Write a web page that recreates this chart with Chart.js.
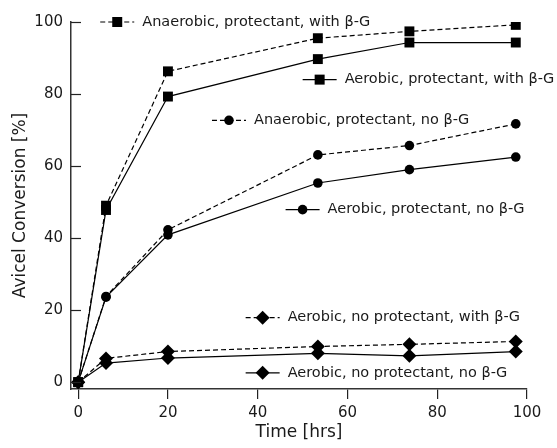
<!DOCTYPE html>
<html>
<head>
<meta charset="utf-8">
<script src="https://cdn.jsdelivr.net/npm/chart.js@4"></script>
<style>
  body { margin: 0; background: #fff; }
  #grafico { display: block; }
</style>
</head>
<body>
<canvas id="grafico" width="557" height="448"></canvas>
<script>
// time points [hrs]
const tempos = [0, 6.2, 20, 53.4, 73.8, 97.5];

// Avicel conversion [%]
const anaerobicoProtCom = [0, 49.0, 86.3, 95.5, 97.4, 99.2];
const aerobicoProtCom = [0, 47.8, 79.3, 89.7, 94.3, 94.3];
const anaerobicoProtSem = [0, 23.8, 42.3, 63.1, 65.7, 71.7];
const aerobicoProtSem = [0, 23.6, 40.9, 55.3, 59.0, 62.5];
const aerobicoSemProtCom = [0, 6.6, 8.5, 9.9, 10.5, 11.3];
const aerobicoSemProtSem = [0, 5.3, 6.7, 8.0, 7.3, 8.5];

const rotulos = [
  'Anaerobic, protectant, with \u03B2-G',
  'Aerobic, protectant, with \u03B2-G',
  'Anaerobic, protectant, no \u03B2-G',
  'Aerobic, protectant, no \u03B2-G',
  'Aerobic, no protectant, with \u03B2-G',
  'Aerobic, no protectant, no \u03B2-G'
];

const ticksX = [0, 20, 40, 60, 80, 100];
const ticksY = [0, 20, 40, 60, 80, 100];

const fonte = 'DejaVu Sans';
const corTexto = '#1a1a1a';

function pares(ys) {
  return tempos.map((t, i) => ({ x: t, y: ys[i] }));
}

function serie(label, ys, estilo, tracejado, raio) {
  return {
    label: label,
    data: pares(ys),
    borderColor: '#000',
    backgroundColor: '#000',
    borderWidth: 1.2,
    borderDash: tracejado ? [5, 3] : [],
    pointStyle: estilo,
    pointRadius: raio,
    pointHoverRadius: raio,
    pointBorderWidth: 0,
    tension: 0
  };
}

// where each in-plot label sits (data coords of the sample marker)
const posLegenda = [
  { x: 8.7, y: 100 },
  { x: 53.8, y: 84.0 },
  { x: 33.6, y: 72.7 },
  { x: 50.0, y: 47.9 },
  { x: 41.1, y: 17.9 },
  { x: 41.1, y: 2.6 }
];

function marcador(ctx, estilo, x, y) {
  ctx.beginPath();
  if (estilo === 'rect') {
    ctx.rect(x - 5, y - 5, 10, 10);
  } else if (estilo === 'circle') {
    ctx.arc(x, y, 4.8, 0, Math.PI * 2);
  } else {
    ctx.moveTo(x, y - 7);
    ctx.lineTo(x + 7, y);
    ctx.lineTo(x, y + 7);
    ctx.lineTo(x - 7, y);
    ctx.closePath();
  }
  ctx.fill();
}

const legendaInterna = {
  id: 'legendaInterna',
  afterDraw(chart) {
    const ctx = chart.ctx;
    const sx = chart.scales.x;
    const sy = chart.scales.y;
    const area = chart.chartArea;

    // inward y ticks
    ctx.save();
    ctx.strokeStyle = '#222';
    ctx.lineWidth = 1.2;
    ticksY.forEach(v => {
      const py = Math.round(sy.getPixelForValue(v)) + 0.5;
      ctx.beginPath();
      ctx.moveTo(area.left, py);
      ctx.lineTo(area.left + 10, py);
      ctx.stroke();
    });
    ctx.restore();

    chart.data.datasets.forEach((ds, i) => {
      const p = posLegenda[i];
      const px = sx.getPixelForValue(p.x);
      const py = sy.getPixelForValue(p.y);
      ctx.save();
      ctx.strokeStyle = '#000';
      ctx.fillStyle = '#000';
      ctx.lineWidth = 1.2;
      ctx.setLineDash(ds.borderDash);
      ctx.beginPath();
      ctx.moveTo(px - 17, py);
      ctx.lineTo(px + 17, py);
      ctx.stroke();
      ctx.setLineDash([]);
      marcador(ctx, ds.pointStyle, px, py);
      ctx.fillStyle = corTexto;
      ctx.font = '14.5px "' + fonte + '"';
      ctx.textBaseline = 'middle';
      ctx.textAlign = 'left';
      ctx.fillText(ds.label, px + 25, py);
      ctx.restore();
    });
  }
};

const ctx = document.getElementById('grafico');

new Chart(ctx, {
  type: 'line',
  data: {
    datasets: [
      serie(rotulos[0], anaerobicoProtCom, 'rect', true, 7),
      serie(rotulos[1], aerobicoProtCom, 'rect', false, 7),
      serie(rotulos[2], anaerobicoProtSem, 'circle', true, 4.8),
      serie(rotulos[3], aerobicoProtSem, 'circle', false, 4.8),
      serie(rotulos[4], aerobicoSemProtCom, 'rectRot', true, 7),
      serie(rotulos[5], aerobicoSemProtSem, 'rectRot', false, 7)
    ]
  },
  options: {
    responsive: false,
    animation: false,
    layout: { padding: { top: 22, right: 30, left: 0, bottom: 0 } },
    plugins: {
      legend: { display: false },
      tooltip: { enabled: false }
    },
    scales: {
      x: {
        type: 'linear',
        min: -1.6,
        max: 100,
        afterBuildTicks: s => { s.ticks = ticksX.map(v => ({ value: v })); },
        afterFit: s => { s.height = 59; },
        grid: { drawOnChartArea: false, tickLength: 10, color: '#222', lineWidth: 1.2 },
        border: { display: true, color: '#333', width: 1.5 },
        ticks: { color: corTexto, font: { family: fonte, size: 15 }, padding: 5, maxRotation: 0 },
        title: {
          display: true,
          text: 'Time [hrs]',
          color: corTexto,
          font: { family: fonte, size: 17 },
          padding: { top: 0, bottom: 5 }
        }
      },
      y: {
        type: 'linear',
        min: -1.9,
        max: 100,
        afterBuildTicks: s => { s.ticks = ticksY.map(v => ({ value: v })); },
        afterFit: s => { s.width = 71; },
        grid: { display: false, drawTicks: false },
        border: { display: true, color: '#333', width: 1.5 },
        ticks: { color: corTexto, font: { family: fonte, size: 15 }, padding: 8 },
        title: {
          display: true,
          text: 'Avicel Conversion [%]',
          color: corTexto,
          font: { family: fonte, size: 17 },
          padding: { top: 10, bottom: 0 }
        }
      }
    }
  },
  plugins: [legendaInterna]
});
</script>
</body>
</html>
